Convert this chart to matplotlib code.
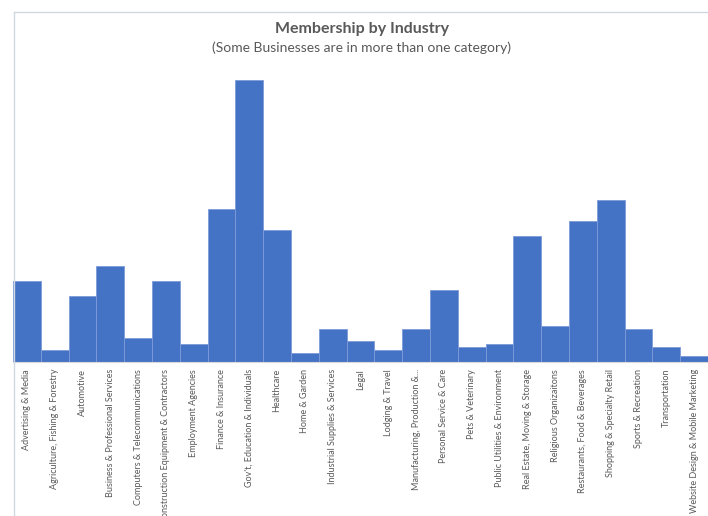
import matplotlib.pyplot as plt
from matplotlib.lines import Line2D

categories = [
    "Advertising & Media", "Agriculture, Fishing & Forestry", "Automotive",
    "Business & Professional Services", "Computers & Telecommunications",
    "Construction Equipment & Contractors", "Employment Agencies",
    "Finance & Insurance", "Gov't, Education & Individuals", "Healthcare",
    "Home & Garden", "Industrial Supplies & Services", "Legal",
    "Lodging & Travel", "Manufacturing, Production &...",
    "Personal Service & Care", "Pets & Veterinary",
    "Public Utilities & Environment", "Real Estate, Moving & Storage",
    "Religious Organizaitons", "Restaurants, Food & Beverages",
    "Shopping & Specialty Retail", "Sports & Recreation", "Transportation",
    "Website Design & Mobile Marketing",
]
members = [27, 4, 22, 32, 8, 27, 6, 51, 94, 44, 3, 11, 7, 4, 11, 24, 5, 6,
           42, 12, 47, 54, 11, 5, 2]

font = ['Lato', 'DejaVu Sans']

fig = plt.figure(figsize=(7.08, 5.16), dpi=100)
ax = fig.add_axes([13 / 708, 1 - 362 / 516, 695 / 708, 282 / 516])

x = range(len(categories))
ax.bar(x, members, width=1.0, color='#4472C4', edgecolor='#7d9bd8', linewidth=0.6)
ax.set_xlim(-0.5, len(categories) - 0.5)
ax.set_ylim(0, max(members))

ax.set_xticks(list(x))
ax.set_xticklabels(categories, rotation=90, fontsize=6.5, color='#595959', family=font)
ax.tick_params(axis='x', length=0, pad=5)
ax.set_yticks([])
for s in ['top', 'right', 'left']:
    ax.spines[s].set_visible(False)
ax.spines['bottom'].set_color('#d9d9d9')

# chart frame (cropped screenshot)
fig.add_artist(Line2D([14 / 708, 14 / 708], [0, 1 - 12 / 516], color='#d0d8e2', lw=1))
fig.add_artist(Line2D([14 / 708, 1], [1 - 12 / 516, 1 - 12 / 516], color='#d0d8e2', lw=1))

fig.text(362 / 708, 1 - 29 / 516, "Membership by Industry", ha='center', va='center',
         fontsize=11.5, fontweight='bold', color='#595959', family=font)
fig.text(362 / 708, 1 - 48 / 516, "(Some Businesses are in more than one category)",
         ha='center', va='center', fontsize=10, color='#595959', family=font)

plt.savefig('out.png', dpi=100)
